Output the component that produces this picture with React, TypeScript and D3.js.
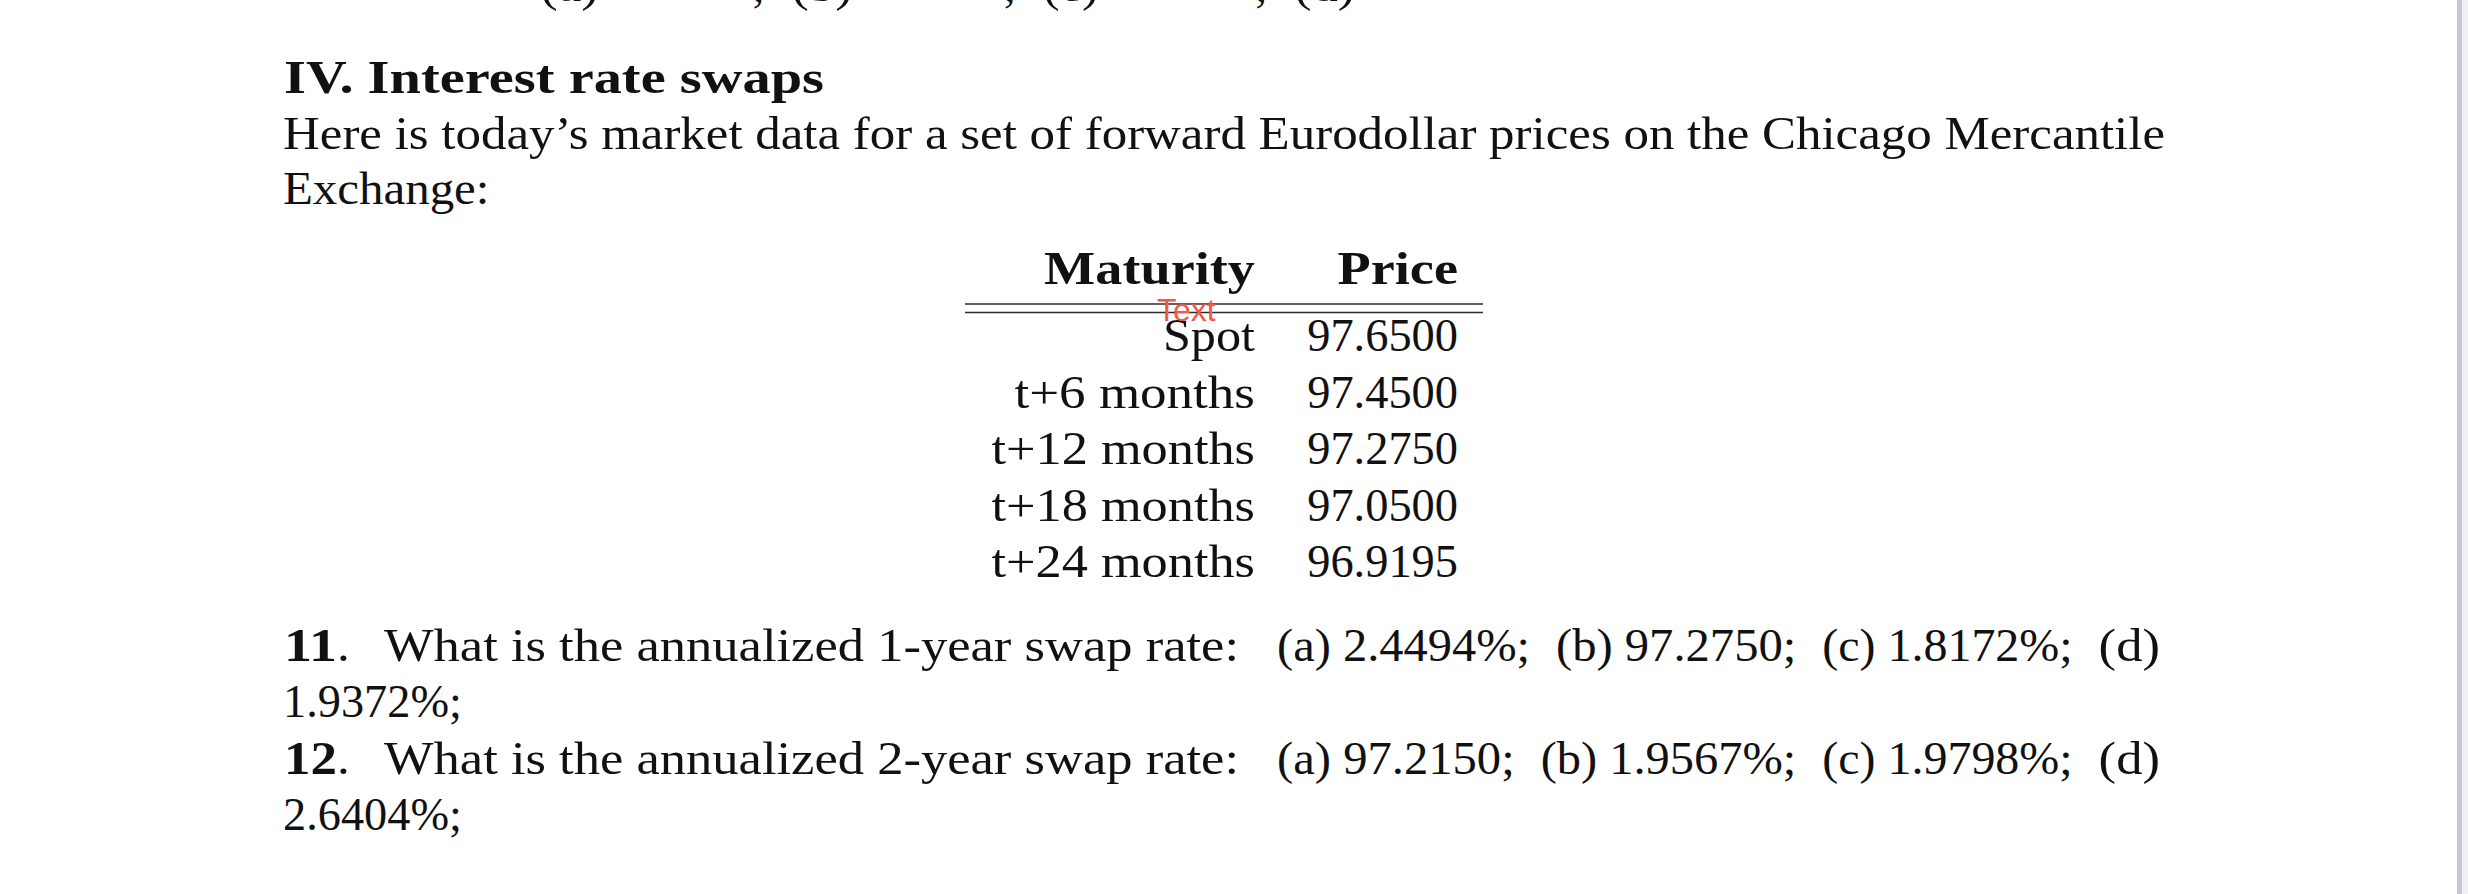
import React from 'react';
import * as d3 from 'd3';

// page size and type size (one TeX em in screen px)
const W = 2468;
const H = 894;
const EM = 46;

// section text
const sectionTitle = 'IV. Interest rate swaps';
const introLines = [
    'Here is today\u2019s market data for a set of forward Eurodollar prices on the Chicago Mercantile',
    'Exchange:',
];

// table data
const tableHeaders = ['Maturity', 'Price'];
const maturities = ['Spot', 't+6 months', 't+12 months', 't+18 months', 't+24 months'];
const prices = [97.65, 97.45, 97.275, 97.05, 96.9195];

// questions
const questionNumbers = ['11', '12'];
const questionPrompts = [
    'What is the annualized 1-year swap rate:',
    'What is the annualized 2-year swap rate:',
];
const optionLetters = ['a', 'b', 'c', 'd'];
const q11Options = ['2.4494%', '97.2750', '1.8172%', '1.9372%'];
const q12Options = ['97.2150', '1.9567%', '1.9798%', '2.6404%'];

// the line cut off at the top of the page (only descenders show)
const cutOffLetters = ['a', 'b', 'c', 'd'];

// Computer Modern advance widths (em), used to size the substitute font
const CMR: Record<string, number> = {
    ' ': 0.333, '%': 0.833, '\u2019': 0.278, '(': 0.389, ')': 0.389, '+': 0.778,
    ',': 0.278, '-': 0.333, '.': 0.278, ':': 0.278, ';': 0.278,
    A: 0.75, C: 0.722, E: 0.681, H: 0.75, I: 0.361, M: 0.917, P: 0.681, S: 0.556, T: 0.722, W: 1.028,
    a: 0.5, b: 0.556, c: 0.444, d: 0.556, e: 0.444, f: 0.306, g: 0.5, h: 0.556, i: 0.278,
    k: 0.528, l: 0.278, m: 0.833, n: 0.556, o: 0.5, p: 0.556, r: 0.392, s: 0.394, t: 0.389,
    u: 0.556, w: 0.722, x: 0.528, y: 0.528, z: 0.444,
};
const CMBX: Record<string, number> = {
    ' ': 0.383, '.': 0.319, I: 0.436, V: 0.869, M: 1.092, P: 0.786,
    a: 0.559, c: 0.511, e: 0.527, i: 0.319, n: 0.639, p: 0.639, r: 0.474, s: 0.454,
    t: 0.447, u: 0.639, w: 0.831, y: 0.607,
};
const cmWidth = (s: string, bold = false) =>
    d3.sum(Array.from(s), ch => {
        if (/[0-9]/.test(ch)) return bold ? 0.575 : 0.5;
        return (bold ? CMBX[ch] : CMR[ch]) ?? 0.5;
    }) * EM;

const SERIF = "'Liberation Serif', 'Times New Roman', serif";
const INK = '#111';

// fitted text: the glyphs are stretched to the width TeX gave them
const T = ({ x, y, w, text, bold = false, size = EM }: any) => (
    <text
        x={x}
        y={y}
        textLength={w}
        lengthAdjust="spacingAndGlyphs"
        fontFamily={SERIF}
        fontSize={size}
        fontWeight={bold ? 'bold' : 'normal'}
        fill={INK}
    >
        {text}
    </text>
);

const App = () => {
    const left = 283;
    const right = 2160;

    // table scales
    const rowY = d3.scalePoint<string>().domain(maturities).range([351, 577]);
    const colRight = d3.scaleOrdinal<string, number>().domain(tableHeaders).range([1255, 1458]);
    const fmt = d3.format('.4f');

    // question lines: prompt baseline and continuation baseline
    const qLineY = d3.scaleLinear().domain([0, 3]).range([661, 830]);
    const optionSets = [q11Options, q12Options];

    const questionRow = (qi: number) => {
        const y = qLineY(qi * 2);
        const opts = optionSets[qi];
        const segs = optionLetters.map((l, i) => (i < 3 ? `(${l}) ${opts[i]};` : `(${l})`));
        const widths = segs.map(s => cmWidth(s));
        const start = 1277;
        const gap = (right - start - d3.sum(widths)) / (segs.length - 1);
        const xs = widths.map((_, i) => start + d3.sum(widths.slice(0, i)) + gap * i);
        const numW = cmWidth(questionNumbers[qi], true);
        return (
            <g key={qi}>
                <T x={left + 1} y={y} w={numW} text={questionNumbers[qi]} bold />
                <T x={left + 1 + numW} y={y} w={cmWidth('.')} text="." />
                <T x={384} y={y} w={1239 - 384} text={questionPrompts[qi]} />
                {segs.map((s, i) => (
                    <T key={i} x={xs[i]} y={y} w={widths[i]} text={s} />
                ))}
                <T x={left} y={qLineY(qi * 2 + 1)} w={cmWidth(`${opts[3]};`)} text={`${opts[3]};`} />
            </g>
        );
    };

    // fragments of the previous question's last line
    const cutX = d3.scaleLinear().domain([0, 3]).range([540, 1294]);

    return (
        <svg
            width={W}
            height={H}
            style={{ position: 'absolute', left: 0, top: 0, background: '#fff' }}
        >
            <rect x={0} y={0} width={W} height={H} fill="#ffffff" />

            {cutOffLetters.map((l, i) => (
                <g key={l}>
                    <T x={cutX(i)} y={1} w={cmWidth(`(${l})`)} text={`(${l})`} />
                    {i < 3 && <T x={cutX(i) + 212} y={1} w={cmWidth(';')} text=";" />}
                </g>
            ))}

            <T x={284} y={93} w={540} text={sectionTitle} bold />
            <T x={left} y={149} w={2165 - left} text={introLines[0]} />
            <T x={left} y={204} w={cmWidth(introLines[1])} text={introLines[1]} />

            {tableHeaders.map(h => (
                <T key={h} x={colRight(h) - cmWidth(h, true)} y={284} w={cmWidth(h, true)} text={h} bold />
            ))}
            <line x1={965} x2={1483} y1={304} y2={304} stroke="#2b2b2b" strokeWidth={1.6} />
            <line x1={965} x2={1483} y1={312.5} y2={312.5} stroke="#2b2b2b" strokeWidth={1.6} />
            {maturities.map((m, i) => {
                const p = fmt(prices[i]);
                return (
                    <g key={m}>
                        <T x={colRight(tableHeaders[0]) - cmWidth(m)} y={rowY(m)} w={cmWidth(m)} text={m} />
                        <T x={colRight(tableHeaders[1]) - cmWidth(p)} y={rowY(m)} w={cmWidth(p)} text={p} />
                    </g>
                );
            })}
            <text x={1157} y={321} fontFamily="'Liberation Sans', Arial, sans-serif" fontSize={32} fill="#f0584a">
                Text
            </text>

            {questionNumbers.map((_, qi) => questionRow(qi))}

            <rect x={2457} y={0} width={5} height={H} fill="#c6c9cf" />
            <rect x={2462} y={0} width={6} height={H} fill="#eff0f2" />
        </svg>
    );
};

export default App;
